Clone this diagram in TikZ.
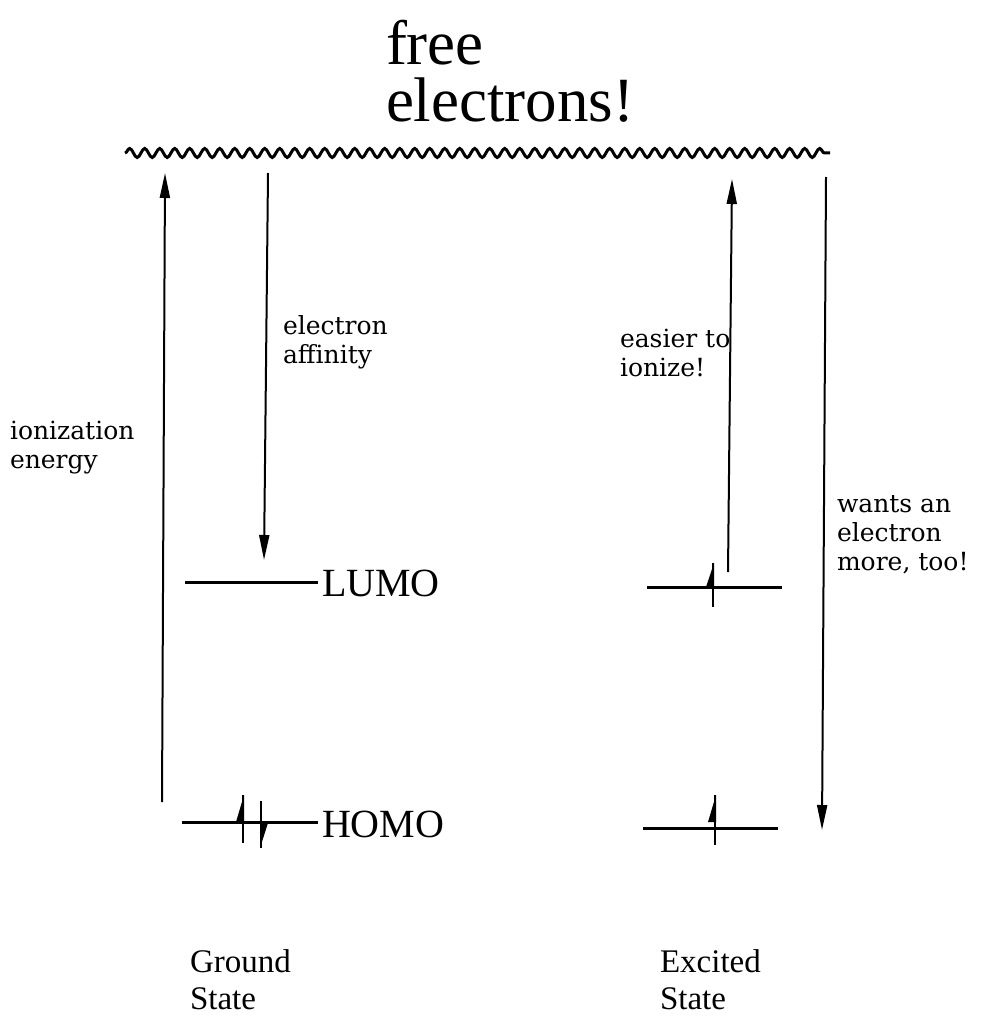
\documentclass[tikz,border=0pt]{standalone}
\usepackage{fontspec}
\setmainfont{Liberation Serif}
\newfontfamily\notefont{DejaVu Serif}
\usetikzlibrary{arrows.meta, decorations.pathmorphing, positioning}

\begin{document}
\begin{tikzpicture}[
  x=1pt, y=-1pt,
  every node/.style={inner sep=0pt, outer sep=0pt},
  titletext/.style={align=left, font=\fontsize{63}{57}\selectfont},
  lvltext/.style={font=\fontsize{40}{40}\selectfont},
  statetext/.style={align=left, font=\fontsize{33}{37}\selectfont},
  note/.style={align=left, font=\notefont\fontsize{25}{29}\selectfont},
  level/.style={line width=3pt},
  arr/.style={-{Triangle[length=25pt, width=10pt]}, line width=2pt},
  spin/.style={line width=2pt},
  freeline/.style={line width=3pt, decorate, decoration={snake, segment length=15pt, amplitude=4.5pt}},
]
\useasboundingbox (0,0) rectangle (980,1016);

%% Free electrons (vacuum level)
\node[titletext, anchor=north west] (free) at (386,20) {free\\electrons!};
\coordinate (vac-a) at (125,153);
\coordinate (vac-b) at (830,153);
\draw[freeline] (vac-a) -- (vac-b);

%% Ground state levels
\coordinate (gL-a) at (185,582);
\coordinate (gL-b) at (318,582);
\coordinate (gH-a) at (182,822);
\coordinate (gH-b) at (318,822);
\draw[level] (gL-a) -- (gL-b);
\draw[level] (gH-a) -- (gH-b);
\node[lvltext, anchor=west] (lumo) at (322,583) {LUMO};
\node[lvltext, anchor=west] (homo) at (322,824) {HOMO};

%% Excited state levels
\coordinate (eL-a) at (647,587);
\coordinate (eL-b) at (782,587);
\coordinate (eH-a) at (643,828);
\coordinate (eH-b) at (778,828);
\draw[level] (eL-a) -- (eL-b);
\draw[level] (eH-a) -- (eH-b);

%% Electrons
\draw[spin] (243,795) -- (243,843);
\fill (244,795) -- (236,822) -- (244,822) -- cycle;
\draw[spin] (261,801) -- (261,848);
\fill (260,848) -- (268,823) -- (260,823) -- cycle;
\draw[spin] (713,563) -- (713,607);
\fill (714,563) -- (706,587) -- (714,587) -- cycle;
\draw[spin] (715,795) -- (715,845);
\fill (716,795) -- (708,822) -- (716,822) -- cycle;

%% Arrows
\coordinate (ie-bot) at (162,802);
\coordinate (ie-top) at (165,173);
\coordinate (ea-top) at (268,173);
\coordinate (ea-bot) at (264,560);
\coordinate (ei-bot) at (728,572);
\coordinate (ei-top) at (732,179);
\coordinate (wa-top) at (826,177);
\coordinate (wa-bot) at (822,830);
\draw[arr] (ie-bot) -- (ie-top);
\draw[arr] (ea-top) -- (ea-bot);
\draw[arr] (ei-bot) -- (ei-top);
\draw[arr] (wa-top) -- (wa-bot);

%% Notes
\node[note, anchor=north west] (ion)   at (10,421)  {ionization\\energy};
\node[note, anchor=north west] (aff)   at (283,316) {electron\\affinity};
\node[note, anchor=north west] (easy)  at (620,329) {easier to\\ionize!};
\node[note, anchor=north west] (wants) at (837,495) {wants an\\electron\\more, too!};

%% States
\node[statetext, anchor=north west] (ground)  at (190,950) {Ground\\State};
\node[statetext, anchor=north west] (excited) at (660,950) {Excited\\State};

\end{tikzpicture}
\end{document}
